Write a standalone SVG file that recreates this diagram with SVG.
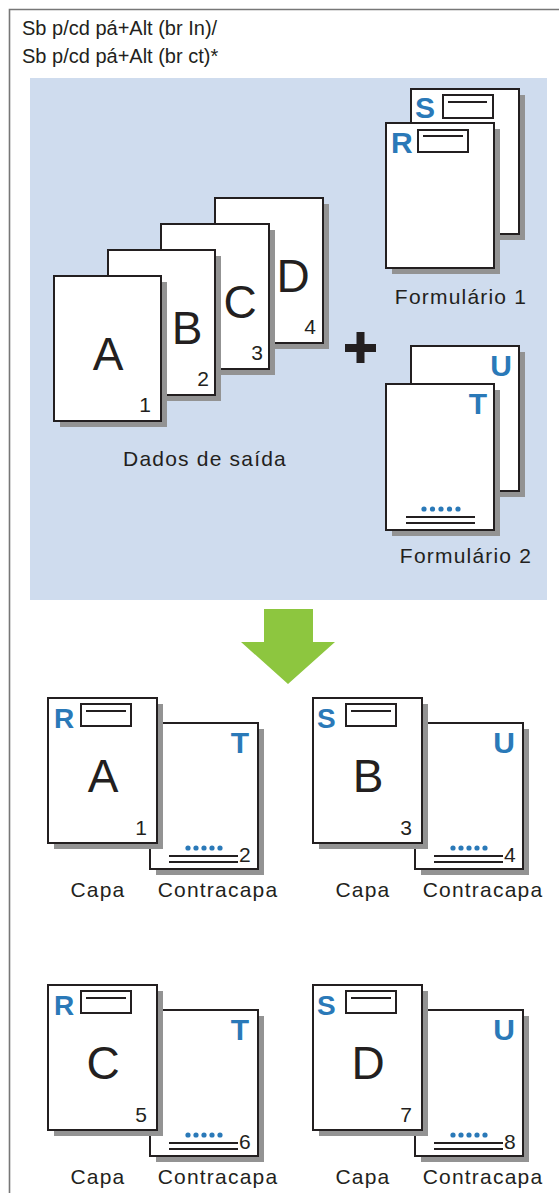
<svg xmlns="http://www.w3.org/2000/svg" width="559" height="1193" viewBox="0 0 559 1193">
<style>
text{font-family:"Liberation Sans",Arial,sans-serif;fill:#231f20}
.lbl{font-size:21px;letter-spacing:1.2px}
.hdr{font-size:20px}
.big{font-size:46px}
.num{font-size:21px}
.blu{font-size:30px;font-weight:bold;fill:#2a79b8}
.blm{font-size:28px;font-weight:bold;fill:#2a79b8}
.pg{fill:#fff;stroke:#231f20;stroke-width:2}
.sh{fill:#939393}
.bx{fill:none;stroke:#231f20;stroke-width:2}
.ln{stroke:#231f20;stroke-width:1.8}
.dot{fill:#2a79b8}
</style>
<rect width="559" height="1193" fill="#fff"/>
<g id="frame">
<path d="M9.5 1193 V9.5 H559" fill="none" stroke="#777" stroke-width="1.6"/>
<text class="hdr" x="22" y="35">Sb p/cd pá+Alt (br In)/</text>
<text class="hdr" x="22" y="63">Sb p/cd pá+Alt (br ct)*</text>
</g>
<rect id="panel" x="30" y="78" width="517" height="522" fill="#cfdcee"/>
<g id="output-data">
<rect class="sh" x="221" y="204" width="108" height="145"/>
<rect class="pg" x="215" y="198" width="108" height="145"/>
<text class="big" x="293" y="292" text-anchor="middle">D</text>
<text class="num" x="316" y="334" text-anchor="end">4</text>
<rect class="sh" x="167" y="230" width="108" height="145"/>
<rect class="pg" x="161" y="224" width="108" height="145"/>
<text class="big" x="240" y="318" text-anchor="middle">C</text>
<text class="num" x="263" y="360" text-anchor="end">3</text>
<rect class="sh" x="114" y="256" width="107" height="145"/>
<rect class="pg" x="108" y="250" width="107" height="145"/>
<text class="big" x="187" y="344" text-anchor="middle">B</text>
<text class="num" x="209" y="386" text-anchor="end">2</text>
<rect class="sh" x="60" y="282" width="107" height="145"/>
<rect class="pg" x="54" y="276" width="107" height="145"/>
<text class="big" x="108" y="370" text-anchor="middle">A</text>
<text class="num" x="151" y="412" text-anchor="end">1</text>
<text class="lbl" x="205" y="466" text-anchor="middle">Dados de saída</text>
</g>
<g id="plus">
<rect x="345" y="344" width="31" height="8" fill="#231f20"/>
<rect x="356.5" y="332" width="8" height="31" fill="#231f20"/>
</g>
<g id="form1">
<rect class="sh" x="417" y="95" width="108" height="145"/>
<rect class="pg" x="411" y="89" width="108" height="145"/>
<text class="blu" x="415" y="118">S</text>
<rect class="bx" x="443" y="95" width="50" height="23"/>
<line class="ln" x1="448" y1="102" x2="487" y2="102"/>
<rect class="sh" x="392" y="129" width="108" height="145"/>
<rect class="pg" x="386" y="123" width="108" height="145"/>
<text class="blu" x="391" y="153">R</text>
<rect class="bx" x="418" y="130" width="50" height="22"/>
<line class="ln" x1="423" y1="136" x2="463" y2="136"/>
<text class="lbl" x="461" y="304" text-anchor="middle">Formulário 1</text>
</g>
<g id="form2">
<rect class="sh" x="417" y="352" width="108" height="145"/>
<rect class="pg" x="411" y="346" width="108" height="145"/>
<text class="blu" x="512" y="376" text-anchor="end">U</text>
<rect class="sh" x="392" y="390" width="108" height="146"/>
<rect class="pg" x="386" y="384" width="108" height="146"/>
<text class="blu" x="487" y="414" text-anchor="end">T</text>
<circle class="dot" cx="424" cy="509" r="2.6"/><circle class="dot" cx="432.5" cy="509" r="2.6"/><circle class="dot" cx="441" cy="509" r="2.6"/><circle class="dot" cx="449.5" cy="509" r="2.6"/><circle class="dot" cx="458" cy="509" r="2.6"/>
<line class="ln" x1="406" y1="517" x2="475" y2="517"/>
<line class="ln" x1="406" y1="523" x2="475" y2="523"/>
<text class="lbl" x="466" y="563" text-anchor="middle">Formulário 2</text>
</g>
<g id="connectors">
<polygon points="264,609 313,609 313,642 335,642 288,684 241,642 264,642" fill="#8dc63f"/>
</g>
<g id="result1">
<rect class="sh" x="156" y="729" width="108" height="146"/>
<rect class="pg" x="150" y="723" width="108" height="146"/>
<text class="blu" x="249" y="753" text-anchor="end">T</text>
<circle class="dot" cx="188" cy="848" r="2.6"/><circle class="dot" cx="196" cy="848" r="2.6"/><circle class="dot" cx="204" cy="848" r="2.6"/><circle class="dot" cx="212" cy="848" r="2.6"/><circle class="dot" cx="220" cy="848" r="2.6"/>
<line class="ln" x1="169" y1="856" x2="238" y2="856"/>
<line class="ln" x1="169" y1="862" x2="238" y2="862"/>
<text class="num" x="239" y="862">2</text>
<rect class="sh" x="54" y="704" width="109" height="145"/>
<rect class="pg" x="48" y="698" width="109" height="145"/>
<text class="blm" x="54" y="728">R</text>
<rect class="bx" x="81" y="704" width="50" height="22"/>
<line class="ln" x1="86" y1="711" x2="126" y2="711"/>
<text class="big" x="103" y="792" text-anchor="middle">A</text>
<text class="num" x="147" y="835" text-anchor="end">1</text>
<text class="lbl" x="98" y="897" text-anchor="middle">Capa</text>
<text class="lbl" x="218" y="897" text-anchor="middle">Contracapa</text>
</g>
<g id="result2" transform="translate(265,0)">
<rect class="sh" x="156" y="729" width="108" height="146"/>
<rect class="pg" x="150" y="723" width="108" height="146"/>
<text class="blu" x="250" y="753" text-anchor="end">U</text>
<circle class="dot" cx="188" cy="848" r="2.6"/><circle class="dot" cx="196" cy="848" r="2.6"/><circle class="dot" cx="204" cy="848" r="2.6"/><circle class="dot" cx="212" cy="848" r="2.6"/><circle class="dot" cx="220" cy="848" r="2.6"/>
<line class="ln" x1="169" y1="856" x2="238" y2="856"/>
<line class="ln" x1="169" y1="862" x2="238" y2="862"/>
<text class="num" x="239" y="862">4</text>
<rect class="sh" x="54" y="704" width="109" height="145"/>
<rect class="pg" x="48" y="698" width="109" height="145"/>
<text class="blm" x="52" y="728">S</text>
<rect class="bx" x="81" y="704" width="50" height="22"/>
<line class="ln" x1="86" y1="711" x2="126" y2="711"/>
<text class="big" x="103" y="792" text-anchor="middle">B</text>
<text class="num" x="147" y="835" text-anchor="end">3</text>
<text class="lbl" x="98" y="897" text-anchor="middle">Capa</text>
<text class="lbl" x="218" y="897" text-anchor="middle">Contracapa</text>
</g>
<g id="result3" transform="translate(0,287)">
<rect class="sh" x="156" y="729" width="108" height="146"/>
<rect class="pg" x="150" y="723" width="108" height="146"/>
<text class="blu" x="249" y="753" text-anchor="end">T</text>
<circle class="dot" cx="188" cy="848" r="2.6"/><circle class="dot" cx="196" cy="848" r="2.6"/><circle class="dot" cx="204" cy="848" r="2.6"/><circle class="dot" cx="212" cy="848" r="2.6"/><circle class="dot" cx="220" cy="848" r="2.6"/>
<line class="ln" x1="169" y1="856" x2="238" y2="856"/>
<line class="ln" x1="169" y1="862" x2="238" y2="862"/>
<text class="num" x="239" y="862">6</text>
<rect class="sh" x="54" y="704" width="109" height="145"/>
<rect class="pg" x="48" y="698" width="109" height="145"/>
<text class="blm" x="54" y="728">R</text>
<rect class="bx" x="81" y="704" width="50" height="22"/>
<line class="ln" x1="86" y1="711" x2="126" y2="711"/>
<text class="big" x="103" y="792" text-anchor="middle">C</text>
<text class="num" x="147" y="835" text-anchor="end">5</text>
<text class="lbl" x="98" y="897" text-anchor="middle">Capa</text>
<text class="lbl" x="218" y="897" text-anchor="middle">Contracapa</text>
</g>
<g id="result4" transform="translate(265,287)">
<rect class="sh" x="156" y="729" width="108" height="146"/>
<rect class="pg" x="150" y="723" width="108" height="146"/>
<text class="blu" x="250" y="753" text-anchor="end">U</text>
<circle class="dot" cx="188" cy="848" r="2.6"/><circle class="dot" cx="196" cy="848" r="2.6"/><circle class="dot" cx="204" cy="848" r="2.6"/><circle class="dot" cx="212" cy="848" r="2.6"/><circle class="dot" cx="220" cy="848" r="2.6"/>
<line class="ln" x1="169" y1="856" x2="238" y2="856"/>
<line class="ln" x1="169" y1="862" x2="238" y2="862"/>
<text class="num" x="239" y="862">8</text>
<rect class="sh" x="54" y="704" width="109" height="145"/>
<rect class="pg" x="48" y="698" width="109" height="145"/>
<text class="blm" x="52" y="728">S</text>
<rect class="bx" x="81" y="704" width="50" height="22"/>
<line class="ln" x1="86" y1="711" x2="126" y2="711"/>
<text class="big" x="103" y="792" text-anchor="middle">D</text>
<text class="num" x="147" y="835" text-anchor="end">7</text>
<text class="lbl" x="98" y="897" text-anchor="middle">Capa</text>
<text class="lbl" x="218" y="897" text-anchor="middle">Contracapa</text>
</g>
</svg>
